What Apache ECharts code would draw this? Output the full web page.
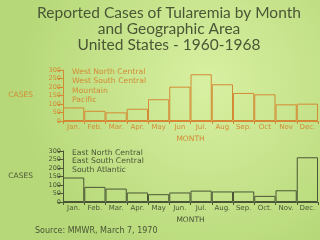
<!DOCTYPE html>
<html><head><meta charset="utf-8">
<script src="https://cdn.jsdelivr.net/npm/echarts@6/dist/echarts.min.js"></script>
<style>html,body{margin:0;padding:0;background:#c8e48c}#c{width:320px;height:240px}</style>
</head><body><div id="c"></div>
<script>
var titleLines = ['Reported Cases of Tularemia by Month', 'and Geographic Area', 'United States - 1960-1968'];
var monthsTop = ['Jan.', 'Feb.', 'Mar.', 'Apr.', 'May', 'Jun', 'Jul.', 'Aug', 'Sep.', 'Oct', 'Nov', 'Dec.'];
var monthsBottom = ['Jan.', 'Feb.', 'Mar.', 'Apr.', 'May', 'Jun.', 'Jul.', 'Aug.', 'Sep.', 'Oct.', 'Nov.', 'Dec.'];
var westCases = [80, 60, 51, 72, 128, 202, 275, 216, 165, 157, 98, 102];
var eastCases = [144, 89, 79, 56, 46, 56, 67, 62, 62, 36, 69, 263];
var westRegions = ['West North Central', 'West South Central', 'Mountain', 'Pacific'];
var eastRegions = ['East North Central', 'East South Central', 'South Atlantic'];
var yTicks = [0, 50, 100, 150, 200, 250, 300];
var sourceText = 'Source: MMWR, March 7, 1970';

var orange = '#d48a34';
var dark = '#4a5636';
var chart = echarts.init(document.getElementById('c'));
function yAx(gi, col) {
  return {
    gridIndex: gi, type: 'value', min: yTicks[0], max: yTicks[yTicks.length - 1], interval: yTicks[1] - yTicks[0],
    name: 'CASES', nameLocation: 'middle', nameRotate: 0, nameGap: 30,
    nameTextStyle: {color: col, fontFamily: 'DejaVu Sans', fontSize: 7.5},
    axisLine: {show: true, lineStyle: {color: col, width: 1}},
    axisTick: {show: true, length: 5, lineStyle: {color: col}},
    axisLabel: {color: col, fontFamily: 'DejaVu Sans', fontSize: 6.5, margin: 2},
    splitLine: {show: false}
  };
}
function xAx(gi, col, cats) {
  return {
    gridIndex: gi, type: 'category', data: cats, boundaryGap: true,
    name: 'MONTH', nameLocation: 'middle', nameGap: 14,
    nameTextStyle: {color: col, fontFamily: 'DejaVu Sans', fontSize: 7.5},
    axisLine: {show: true, lineStyle: {color: col, width: 1}},
    axisTick: {show: true, length: 3, lineStyle: {color: col}},
    axisLabel: {color: col, fontFamily: 'DejaVu Sans', fontSize: 7, margin: 3, interval: 0},
    splitLine: {show: false}
  };
}
var titles = [];
titleLines.forEach(function (t, i) {
  titles.push({text: t, left: 164, top: 0 + i * 16, textAlign: 'center',
    textStyle: {color: dark, fontFamily: 'Lato', fontWeight: 'normal', fontSize: 15.5}});
});
westRegions.forEach(function (t, i) {
  titles.push({text: t, left: 72, top: 68 + i * 9.3, padding: 0,
    textStyle: {color: orange, fontFamily: 'DejaVu Sans', fontWeight: 'normal', fontSize: 7.7}});
});
eastRegions.forEach(function (t, i) {
  titles.push({text: t, left: 72, top: 149 + i * 8.3, padding: 0,
    textStyle: {color: dark, fontFamily: 'DejaVu Sans', fontWeight: 'normal', fontSize: 7.7}});
});
titles.push({text: sourceText, left: 35, top: 227, padding: 0,
  textStyle: {color: dark, fontFamily: 'DejaVu Sans', fontWeight: 'normal', fontSize: 8}});

chart.setOption({
  backgroundColor: {type: 'radial', x: 0.65, y: 0.35, r: 0.8,
    colorStops: [{offset: 0, color: '#d8f0a2'}, {offset: 1, color: '#b6d878'}]},
  animation: false,
  title: titles,
  grid: [
    {left: 63, top: 70, width: 255, height: 51},
    {left: 63, top: 151, width: 255, height: 51}
  ],
  xAxis: [xAx(0, orange, monthsTop), xAx(1, dark, monthsBottom)],
  yAxis: [yAx(0, orange), yAx(1, dark)],
  series: [
    {type: 'bar', xAxisIndex: 0, yAxisIndex: 0, data: westCases, barCategoryGap: '0%',
      itemStyle: {color: 'rgba(0,0,0,0)', borderColor: orange, borderWidth: 1}},
    {type: 'bar', xAxisIndex: 1, yAxisIndex: 1, data: eastCases, barCategoryGap: '0%',
      itemStyle: {color: 'rgba(0,0,0,0)', borderColor: dark, borderWidth: 1}}
  ]
});
</script></body></html>
